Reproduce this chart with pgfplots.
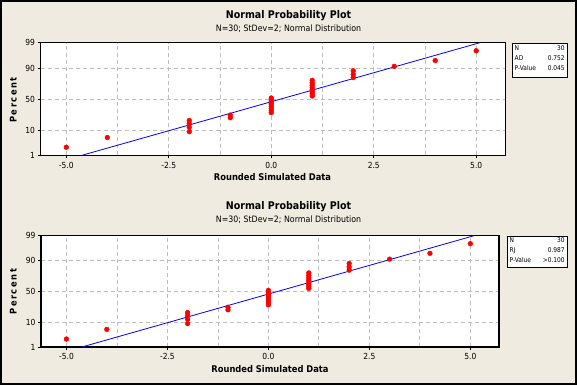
\documentclass[border=0pt]{standalone}
\usepackage{fontspec}
\setmainfont{DejaVu Sans Condensed}
\usepackage{pgfplots}
\usepackage{pgfplotstable}
\pgfplotsset{compat=1.18}
\definecolor{bgcol}{RGB}{240,235,224}
\definecolor{gridcol}{RGB}{190,190,190}

% z-scores (normal quantiles) of plotting positions (i-0.3)/(n+0.4), n=30
\pgfplotstableread{
x z
-5 -1.994
-4 -1.590
-2 -1.348
-2 -1.167
-2 -1.017
-2 -0.887
-1 -0.771
-1 -0.664
0 -0.565
0 -0.471
0 -0.380
0 -0.293
0 -0.208
0 -0.124
0 -0.041
0 0.041
1 0.124
1 0.208
1 0.293
1 0.380
1 0.471
1 0.565
1 0.664
1 0.771
2 0.887
2 1.017
2 1.167
3 1.348
4 1.590
5 1.994
}\pts

\pgfplotsset{
  probstyle/.style={
    scale only axis,
    anchor=south west,
    xmin=-5.63, xmax=5.71,
    ymin=-2.3263, ymax=2.3263,
    xtick={-5,-2.5,0,2.5,5},
    xticklabels={-5.0,-2.5,0.0,2.5,5.0},
    minor xtick={-3.75,-1.25,1.25,3.75},
    ytick={-2.3263,-1.2816,0,1.2816,2.3263},
    yticklabels={1,10,50,90,99},
    xmajorgrids, xminorgrids, ymajorgrids,
    grid style={gridcol, dash pattern=on 4bp off 3bp, line width=0.8bp},
    minor grid style={gridcol, dash pattern=on 4bp off 3bp, line width=0.8bp},
    tick align=outside, tick pos=left,
    major tick length=3bp, minor tick length=0bp,
    major tick style={black, line width=0.8bp},
    axis line style={black, line width=1.2bp},
    axis background/.style={fill=white},
    tick label style={font=\fontsize{8.4}{9}\selectfont},
    xticklabel style={yshift=0bp},
    yticklabel style={xshift=1bp},
    /pgf/number format/assume math mode=true,
    clip=true,
  }
}

\begin{document}
\begin{tikzpicture}[x=1bp,y=1bp]
\fill[bgcol] (0,0) rectangle (577,-385);
\draw[line width=1.6bp, black] (0.8,-0.8) rectangle (576.2,-384.2);

% ---------- top panel ----------
\node[font=\bfseries\fontsize{10.6}{12}\selectfont] at (288.5,-15.7) {Normal Probability Plot};
\node[font=\fontsize{8.8}{10}\selectfont] at (288.5,-28.2) {N=30; StDev=2; Normal Distribution};
\begin{axis}[probstyle, at={(40.5bp,-155.3bp)}, width=464.8bp, height=112.6bp]
  \addplot[blue, line width=0.8bp] coordinates {(-4.62,-2.3263) (5.09,2.3263)};
  \addplot[only marks, mark=*, mark size=2.4bp, mark options={draw=red, fill=red}] table[x=x, y=z] {\pts};
\end{axis}
\node[font=\bfseries\fontsize{9.3}{11}\selectfont] at (272.5,-177.3) {Rounded Simulated Data};
\node[font=\bfseries\fontsize{9.3}{11}\selectfont, rotate=90] at (13.3,-100) {P\,e\,r\,c\,e\,n\,t};
\node[draw=black, line width=1bp, fill=white, anchor=north west, minimum width=55bp, minimum height=34bp, inner sep=0pt] at (512,-43) {};
\node[anchor=north west, inner sep=0pt, font=\fontsize{6.6}{10}\selectfont, text width=50bp] at (514.5,-45)
  {N\hfill 30\\AD\hfill 0.752\\P-Value\hfill 0.045};

% ---------- bottom panel ----------
\node[font=\bfseries\fontsize{10.6}{12}\selectfont] at (288.5,-206.7) {Normal Probability Plot};
\node[font=\fontsize{8.8}{10}\selectfont] at (288.5,-219.2) {N=30; StDev=2; Normal Distribution};
\begin{axis}[probstyle, at={(41bp,-347bp)}, width=458bp, height=111.3bp]
  \addplot[blue, line width=0.8bp] coordinates {(-4.62,-2.3263) (5.09,2.3263)};
  \addplot[only marks, mark=*, mark size=2.4bp, mark options={draw=red, fill=red}] table[x=x, y=z] {\pts};
\end{axis}
\node[font=\bfseries\fontsize{9.3}{11}\selectfont] at (270,-369) {Rounded Simulated Data};
\node[font=\bfseries\fontsize{9.3}{11}\selectfont, rotate=90] at (13.3,-291.7) {P\,e\,r\,c\,e\,n\,t};
\node[draw=black, line width=1bp, fill=white, anchor=north west, minimum width=60bp, minimum height=31.5bp, inner sep=0pt] at (507,-235.7) {};
\node[anchor=north west, inner sep=0pt, font=\fontsize{6.6}{10}\selectfont, text width=55bp] at (509.5,-237.5)
  {N\hfill 30\\RJ\hfill 0.987\\P-Value\hfill >0.100};
\end{tikzpicture}
\end{document}
